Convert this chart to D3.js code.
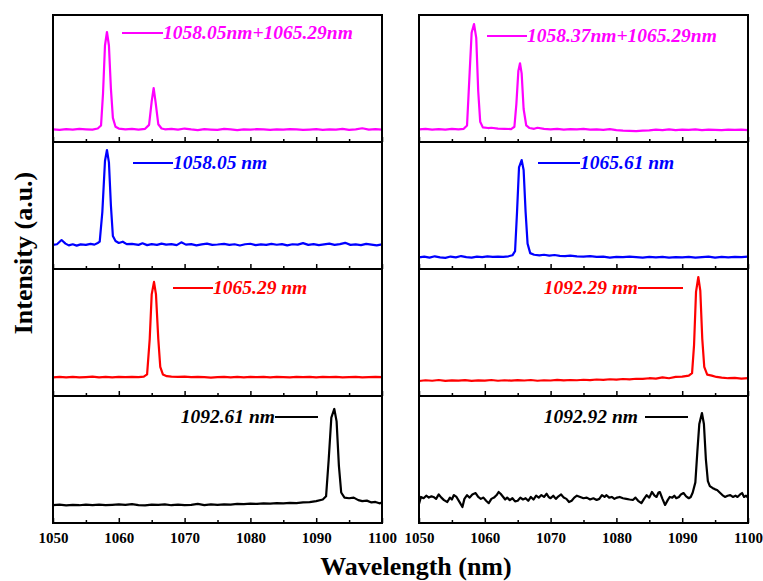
<!DOCTYPE html>
<html>
<head>
<meta charset="utf-8">
<script src="https://cdn.jsdelivr.net/npm/d3@7"></script>
<style>
  body { margin: 0; background: #fff; }
  text { font-family: "Liberation Serif", "Times New Roman", serif; }
</style>
</head>
<body>
<div id="chart"></div>
<script>
// tick labels and legend texts
var xTicks = [1050, 1060, 1070, 1080, 1090, 1100];
var xMinorTicks = [1055, 1065, 1075, 1085, 1095];
var leftLabels = ["1058.05nm+1065.29nm", "1058.05 nm", "1065.29 nm", "1092.61 nm"];
var rightLabels = ["1058.37nm+1065.29nm", "1065.61 nm", "1092.29 nm", "1092.92 nm"];
var rowColors = ["#ff00ff", "#0000ff", "#ff0000", "#000000"];

// spectra: [wavelength (nm), intensity (a.u., 0..1 inside its panel)]
var leftMagenta = [[1050,0.100],[1051,0.096],[1052,0.102],[1053,0.098],[1054,0.104],[1055,0.100],[1056,0.097],[1056.8,0.106],[1057.3,0.130],[1057.6,0.380],[1057.9,0.760],[1058.2,0.866],[1058.5,0.760],[1058.8,0.420],[1059.1,0.190],[1059.5,0.120],[1060,0.106],[1061,0.100],[1062,0.103],[1063,0.098],[1064,0.104],[1064.6,0.135],[1065.0,0.320],[1065.3,0.425],[1065.6,0.310],[1066.0,0.140],[1066.5,0.106],[1067,0.100],[1068,0.104],[1069,0.097],[1070,0.106],[1071,0.099],[1072,0.094],[1073,0.101],[1074,0.098],[1075,0.096],[1076,0.103],[1077,0.099],[1078,0.093],[1079,0.100],[1080,0.097],[1081,0.101],[1082,0.099],[1083,0.095],[1084,0.100],[1085,0.097],[1086,0.102],[1087,0.099],[1088,0.095],[1089,0.098],[1090,0.101],[1091,0.096],[1092,0.100],[1093,0.097],[1094,0.103],[1095,0.096],[1096,0.100],[1097,0.108],[1098,0.097],[1099,0.101],[1100,0.098]];

var leftBlue = [[1050,0.190],[1050.6,0.195],[1051.3,0.228],[1051.9,0.200],[1052.4,0.186],[1053,0.195],[1053.6,0.184],[1054.2,0.194],[1055,0.190],[1055.7,0.198],[1056.3,0.192],[1056.8,0.205],[1057.1,0.215],[1057.5,0.450],[1057.9,0.850],[1058.2,0.937],[1058.5,0.840],[1058.8,0.500],[1059.1,0.260],[1059.5,0.220],[1060,0.205],[1060.6,0.215],[1061.2,0.196],[1062,0.198],[1063,0.190],[1063.6,0.202],[1064.3,0.188],[1065,0.196],[1065.8,0.190],[1066.5,0.200],[1067.2,0.192],[1068,0.196],[1068.8,0.188],[1069.5,0.210],[1070.2,0.192],[1071,0.196],[1071.8,0.186],[1072.6,0.194],[1073.4,0.200],[1074.2,0.190],[1075,0.193],[1076,0.198],[1076.8,0.190],[1077.6,0.195],[1078.4,0.185],[1079.2,0.195],[1080,0.199],[1080.8,0.188],[1081.6,0.194],[1082.4,0.190],[1083.2,0.198],[1084,0.191],[1084.8,0.196],[1085.6,0.186],[1086.4,0.195],[1087.2,0.192],[1088,0.204],[1088.8,0.190],[1089.6,0.196],[1090.4,0.188],[1091.2,0.194],[1092,0.200],[1092.8,0.190],[1093.6,0.196],[1094.4,0.206],[1095.2,0.190],[1096,0.194],[1096.8,0.188],[1097.6,0.198],[1098.4,0.192],[1099.2,0.186],[1100,0.194]];

var leftRed = [[1050,0.146],[1051,0.150],[1052,0.147],[1053,0.151],[1054,0.146],[1055,0.149],[1056,0.152],[1057,0.147],[1058,0.150],[1059,0.146],[1060,0.150],[1061,0.148],[1062,0.151],[1063,0.148],[1063.8,0.152],[1064.3,0.170],[1064.7,0.450],[1065.0,0.800],[1065.35,0.898],[1065.65,0.800],[1066.0,0.450],[1066.3,0.230],[1066.7,0.170],[1067.3,0.156],[1068,0.152],[1069,0.150],[1070,0.153],[1071,0.148],[1072,0.151],[1073,0.149],[1074,0.145],[1075,0.149],[1076,0.151],[1077,0.147],[1078,0.150],[1079,0.147],[1080,0.150],[1081,0.148],[1082,0.151],[1083,0.147],[1084,0.150],[1085,0.149],[1086,0.146],[1087,0.150],[1088,0.148],[1089,0.151],[1090,0.147],[1091,0.150],[1092,0.148],[1093,0.151],[1094,0.147],[1095,0.149],[1096,0.150],[1097,0.146],[1098,0.149],[1099,0.151],[1100,0.148]];

var leftBlack = [[1050,0.140],[1051,0.144],[1052,0.139],[1053,0.143],[1054,0.140],[1055,0.145],[1056,0.141],[1057,0.144],[1058,0.140],[1059,0.143],[1060,0.147],[1061,0.142],[1062,0.148],[1063,0.141],[1064,0.139],[1065,0.145],[1066,0.142],[1067,0.146],[1068,0.140],[1069,0.144],[1070,0.141],[1071,0.143],[1072,0.150],[1073,0.141],[1074,0.146],[1075,0.143],[1076,0.147],[1077,0.144],[1078,0.150],[1079,0.148],[1080,0.153],[1081,0.150],[1082,0.155],[1083,0.152],[1084,0.157],[1085,0.154],[1086,0.158],[1087,0.156],[1088,0.162],[1089,0.165],[1090,0.172],[1091,0.185],[1091.5,0.210],[1091.9,0.500],[1092.3,0.830],[1092.75,0.898],[1093.1,0.800],[1093.45,0.450],[1093.8,0.240],[1094.3,0.200],[1095,0.195],[1095.7,0.200],[1096.4,0.180],[1097,0.172],[1097.7,0.176],[1098.4,0.162],[1099,0.166],[1099.6,0.155],[1100,0.160]];

var rightMagenta = [[1050,0.100],[1051,0.104],[1052,0.098],[1053,0.102],[1054,0.097],[1055,0.103],[1056,0.100],[1056.8,0.104],[1057.3,0.130],[1057.7,0.550],[1058.0,0.860],[1058.36,0.929],[1058.7,0.820],[1059.0,0.400],[1059.3,0.160],[1059.7,0.115],[1060.5,0.110],[1061,0.112],[1062,0.106],[1063,0.104],[1064,0.102],[1064.5,0.120],[1064.8,0.300],[1065.1,0.560],[1065.35,0.620],[1065.6,0.540],[1065.9,0.260],[1066.3,0.130],[1066.8,0.110],[1067.5,0.104],[1068,0.112],[1069,0.103],[1070,0.100],[1071,0.104],[1072,0.097],[1073,0.101],[1074,0.099],[1075,0.103],[1076,0.098],[1077,0.100],[1078,0.096],[1079,0.101],[1080,0.094],[1081,0.090],[1082,0.088],[1083,0.085],[1084,0.090],[1085,0.092],[1086,0.097],[1087,0.094],[1088,0.099],[1089,0.093],[1090,0.097],[1091,0.095],[1092,0.099],[1093,0.094],[1094,0.098],[1095,0.096],[1096,0.093],[1097,0.097],[1098,0.095],[1099,0.098],[1100,0.094]];

var rightBlue = [[1050,0.092],[1050.8,0.098],[1051.6,0.090],[1052.4,0.100],[1053.2,0.092],[1054,0.088],[1054.8,0.098],[1055.6,0.092],[1056.4,0.102],[1057.2,0.094],[1058,0.090],[1058.8,0.098],[1059.6,0.094],[1060.4,0.100],[1061.2,0.096],[1062,0.098],[1062.8,0.095],[1063.6,0.100],[1064.2,0.108],[1064.6,0.140],[1064.9,0.450],[1065.2,0.800],[1065.6,0.858],[1065.9,0.780],[1066.2,0.450],[1066.5,0.200],[1066.9,0.125],[1067.5,0.112],[1068.3,0.108],[1069,0.112],[1069.8,0.105],[1070.6,0.110],[1071.4,0.104],[1072.2,0.102],[1073,0.106],[1074,0.100],[1075,0.098],[1076,0.102],[1077,0.096],[1078,0.098],[1079,0.090],[1080,0.096],[1081,0.093],[1082,0.098],[1083,0.094],[1084,0.090],[1085,0.095],[1086,0.092],[1087,0.096],[1088,0.090],[1089,0.094],[1090,0.092],[1091,0.096],[1092,0.090],[1093,0.094],[1094,0.097],[1095,0.090],[1096,0.095],[1097,0.092],[1098,0.096],[1099,0.093],[1100,0.097]];

var rightRed = [[1050,0.118],[1051,0.124],[1052,0.120],[1053,0.126],[1054,0.119],[1055,0.123],[1056,0.121],[1057,0.125],[1058,0.119],[1059,0.123],[1060,0.121],[1061,0.126],[1062,0.120],[1063,0.124],[1064,0.121],[1065,0.125],[1066,0.122],[1067,0.126],[1068,0.120],[1069,0.124],[1070,0.122],[1071,0.127],[1072,0.123],[1073,0.126],[1074,0.124],[1075,0.128],[1076,0.125],[1077,0.130],[1078,0.127],[1079,0.132],[1080,0.129],[1081,0.134],[1082,0.131],[1083,0.136],[1084,0.135],[1085,0.140],[1086,0.137],[1087,0.146],[1088,0.140],[1089,0.150],[1090,0.152],[1091,0.160],[1091.5,0.180],[1091.8,0.400],[1092.1,0.820],[1092.45,0.937],[1092.75,0.830],[1093.05,0.450],[1093.35,0.230],[1093.8,0.168],[1094.5,0.160],[1095.2,0.150],[1096,0.145],[1097,0.140],[1098,0.143],[1099,0.137],[1100,0.140]];

var rightBlack = [[1050,0.150],[1050.3,0.205],[1050.7,0.195],[1051.1,0.215],[1051.5,0.200],[1051.9,0.210],[1052.2,0.205],[1052.6,0.190],[1053,0.225],[1053.4,0.200],[1053.8,0.180],[1054.3,0.165],[1054.7,0.200],[1055.0,0.185],[1055.3,0.220],[1055.7,0.205],[1056.1,0.170],[1056.6,0.126],[1056.9,0.190],[1057.3,0.219],[1057.7,0.200],[1058.1,0.225],[1058.6,0.236],[1059.0,0.205],[1059.4,0.190],[1059.8,0.200],[1060.2,0.175],[1060.6,0.156],[1061.0,0.190],[1061.4,0.200],[1061.8,0.220],[1062.1,0.244],[1062.4,0.230],[1062.8,0.205],[1063.1,0.185],[1063.4,0.200],[1063.8,0.180],[1064.2,0.195],[1064.6,0.170],[1065.0,0.175],[1065.4,0.200],[1065.8,0.185],[1066.2,0.195],[1066.6,0.175],[1067.0,0.205],[1067.4,0.185],[1067.8,0.215],[1068.2,0.200],[1068.6,0.220],[1069.0,0.205],[1069.4,0.230],[1069.7,0.205],[1070.0,0.195],[1070.4,0.215],[1070.8,0.190],[1071.2,0.210],[1071.6,0.225],[1072.0,0.200],[1072.4,0.190],[1072.8,0.165],[1073.2,0.175],[1073.6,0.200],[1074.0,0.215],[1074.5,0.205],[1075.0,0.195],[1075.5,0.200],[1076.0,0.185],[1076.5,0.195],[1077.0,0.181],[1077.4,0.190],[1077.8,0.220],[1078.2,0.205],[1078.5,0.219],[1078.9,0.200],[1079.3,0.205],[1079.7,0.190],[1080.1,0.200],[1080.5,0.205],[1081.0,0.195],[1081.5,0.190],[1082.0,0.185],[1082.5,0.181],[1082.9,0.200],[1083.3,0.175],[1083.8,0.156],[1084.2,0.190],[1084.6,0.219],[1085.0,0.200],[1085.4,0.244],[1085.8,0.215],[1086.1,0.205],[1086.4,0.240],[1086.6,0.244],[1087.0,0.190],[1087.4,0.142],[1087.8,0.180],[1088.1,0.205],[1088.5,0.200],[1088.8,0.215],[1089.1,0.195],[1089.5,0.205],[1089.8,0.225],[1090.2,0.236],[1090.6,0.210],[1091.0,0.195],[1091.3,0.205],[1091.6,0.240],[1092.0,0.320],[1092.3,0.560],[1092.6,0.780],[1093.0,0.866],[1093.3,0.780],[1093.6,0.500],[1093.9,0.330],[1094.2,0.290],[1094.6,0.276],[1095.0,0.265],[1095.3,0.260],[1095.7,0.240],[1096.1,0.220],[1096.5,0.205],[1096.9,0.215],[1097.3,0.220],[1097.7,0.205],[1098.1,0.215],[1098.4,0.205],[1098.8,0.225],[1099.1,0.236],[1099.4,0.205],[1099.7,0.215],[1100,0.200]];

var w = 763, h = 581;
var top0 = 15, bottom0 = 523, rowH = (bottom0 - top0) / 4;
var colW = 329;

// legend layout per panel: line from lx1 to lx2 (panel px), text on left or right of it
var leftLegend = [
  {lx1: 69, lx2: 110, ly: 18, side: "right"},
  {lx1: 80, lx2: 120, ly: 21, side: "right"},
  {lx1: 120, lx2: 160, ly: 19, side: "right"},
  {lx1: 222, lx2: 265, ly: 21, side: "left"}
];
var rightLegend = [
  {lx1: 68, lx2: 108, ly: 21, side: "right"},
  {lx1: 119, lx2: 161, ly: 21, side: "right"},
  {lx1: 219, lx2: 264, ly: 19, side: "left"},
  {lx1: 226, lx2: 269, ly: 21, side: "left", gap: 7}
];

var columns = [
  {x0: 53, series: [leftMagenta, leftBlue, leftRed, leftBlack], labels: leftLabels, legend: leftLegend},
  {x0: 419, series: [rightMagenta, rightBlue, rightRed, rightBlack], labels: rightLabels, legend: rightLegend}
];

var svg = d3.select("#chart").append("svg")
    .attr("width", w)
    .attr("height", h);

var x = d3.scaleLinear().domain([1050, 1100]).range([0, colW]);
var y = d3.scaleLinear().domain([0, 1]).range([rowH, 0]);

var line = d3.line()
    .x(function(d) { return x(d[0]); })
    .y(function(d) { return y(d[1]); });

columns.forEach(function(col) {
  col.series.forEach(function(data, i) {
    var g = svg.append("g")
        .attr("transform", "translate(" + col.x0 + "," + (top0 + i * rowH) + ")");

    // minor and major ticks pointing inward at the bottom
    g.append("g")
        .attr("transform", "translate(0," + rowH + ")")
        .call(d3.axisBottom(x).tickValues(xMinorTicks).tickSize(-3).tickFormat(""))
        .call(function(a) { a.select(".domain").remove(); a.selectAll("line").attr("stroke-width", 1.5); });

    var major = g.append("g")
        .attr("transform", "translate(0," + rowH + ")")
        .call(d3.axisBottom(x).tickValues(xTicks).tickSize(-5).tickPadding(i === 3 ? 9 : 0)
              .tickFormat(i === 3 ? d3.format("d") : ""));
    major.select(".domain").remove();
    major.selectAll("line").attr("stroke-width", 1.5);
    major.selectAll("text")
        .attr("fill", "#000")
        .style("font-size", "15px")
        .style("font-weight", "bold")
        .style("font-family", "'Liberation Serif', serif");

    g.append("path")
        .datum(data)
        .attr("fill", "none")
        .attr("stroke", rowColors[i])
        .attr("stroke-width", 2.2)
        .attr("stroke-linejoin", "round")
        .attr("d", line);

    // frame
    g.append("rect")
        .attr("width", colW)
        .attr("height", rowH)
        .attr("fill", "none")
        .attr("stroke", "#000")
        .attr("stroke-width", 2);

    // legend
    var lg = col.legend[i];
    g.append("line")
        .attr("x1", lg.lx1).attr("x2", lg.lx2)
        .attr("y1", lg.ly).attr("y2", lg.ly)
        .attr("stroke", rowColors[i])
        .attr("stroke-width", 2);
    g.append("text")
        .attr("x", lg.side === "right" ? lg.lx2 : lg.lx1 - (lg.gap || 0))
        .attr("y", lg.ly + 6)
        .attr("text-anchor", lg.side === "right" ? "start" : "end")
        .attr("fill", rowColors[i])
        .style("font-size", "19.5px")
        .style("font-weight", "bold")
        .style("font-style", "italic")
        .text(col.labels[i]);
  });
});

svg.append("text")
    .attr("transform", "rotate(-90)")
    .attr("x", -253)
    .attr("y", 32)
    .attr("text-anchor", "middle")
    .style("font-size", "26px")
    .style("font-weight", "bold")
    .text("Intensity (a.u.)");

svg.append("text")
    .attr("x", 416)
    .attr("y", 575)
    .attr("text-anchor", "middle")
    .style("font-size", "26px")
    .style("font-weight", "bold")
    .text("Wavelength (nm)");
</script>
</body>
</html>
